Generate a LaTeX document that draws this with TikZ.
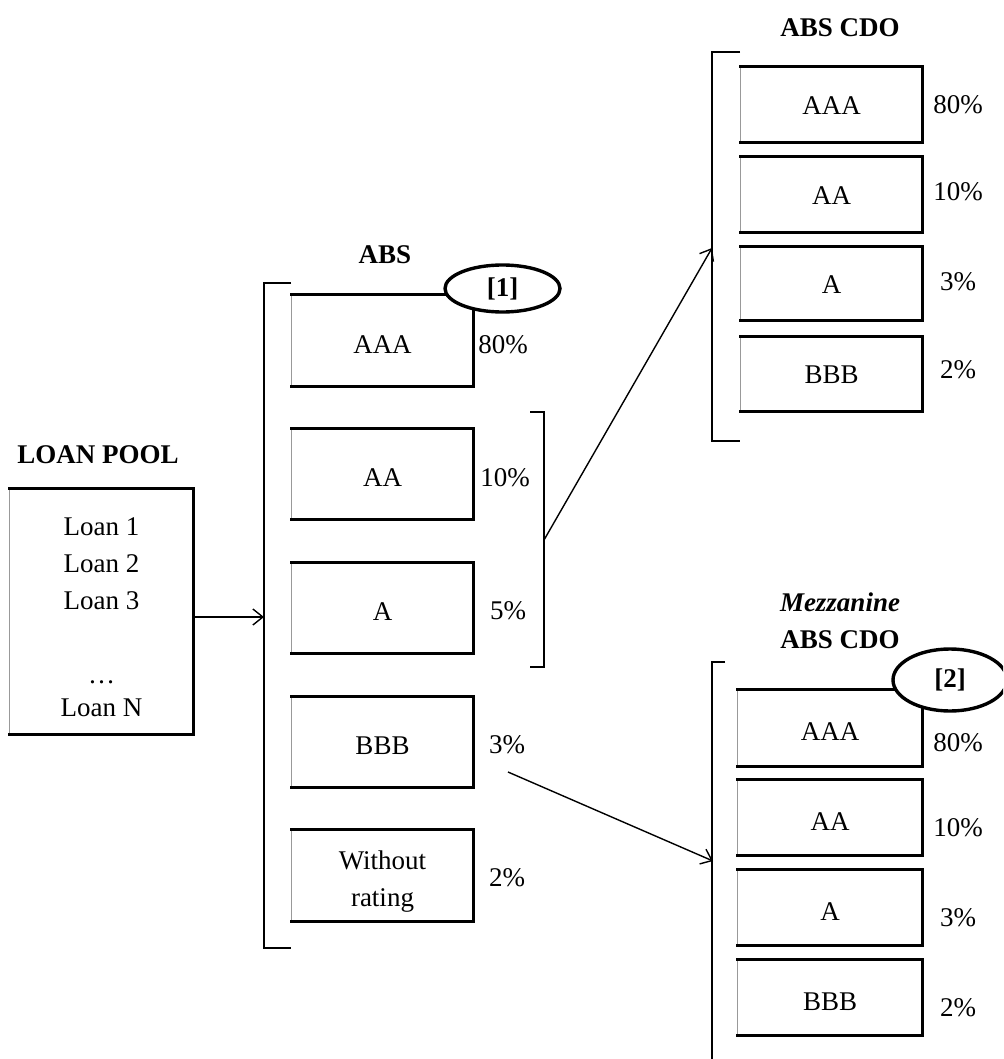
\documentclass[tikz,border=0pt]{standalone}
\usepackage{fontspec}
\setmainfont{Liberation Serif}
\usetikzlibrary{arrows.meta,shapes.geometric}
\tikzset{
 tbox/.style={inner sep=0pt, align=center, font=\fontsize{13.5}{18.5}\selectfont},
 tedge/.style={line width=1.5pt, line join=miter, line cap=rect},
 ledge/.style={line width=0.5pt, black!40},
 brk/.style={line width=1pt},
 arr/.style={line width=0.7pt, -{Straight Barb[length=5pt,width=8pt]}},
 lbl/.style={font=\fontsize{13.5}{16}\selectfont, inner sep=0pt},
 ttl/.style={font=\fontsize{13.5}{18.5}\selectfont\bfseries, inner sep=0pt, align=center},
 tag/.style={ellipse, draw, line width=1.7pt, fill=white, inner sep=0pt, font=\fontsize{13.5}{16}\selectfont\bfseries},
}
% name, cx, cy, w(px), h(px), text, text offset (px)
\newcommand\trbox[7]{%
 \node[inner sep=0pt, minimum width=#4*0.5pt, minimum height=#5*0.5pt] (#1) at (#2,#3) {};
 \node[tbox] (#1-t) at (#2,#3+#7) {#6};
 \draw[ledge] (#1.south west) -- (#1.north west);
 \draw[tedge] (#1.north west) -- (#1.north east) -- (#1.south east) -- (#1.south west);
}
\begin{document}
\begin{tikzpicture}[x=0.5pt,y=-0.5pt]
\useasboundingbox (0,0) rectangle (1003,1059);
\clip (0,0) rectangle (1003,1059);

% ---- Loan pool
\node[ttl] (pooltitle) at (98,455) {LOAN POOL};
\trbox{pool}{101.5}{611.5}{183}{245}{Loan 1\\Loan 2\\Loan 3\\[18.5pt]\dots\\[-2pt]Loan N}{5.5}

% ---- ABS
\node[ttl] (abstitle) at (385,255) {ABS};
\draw[brk] (291,283) -- (264,283) -- (264,948) -- (291,948);
\trbox{absA3}{382.5}{340.5}{181}{91}{AAA}{4}
\trbox{absA2}{382.5}{474}{181}{90}{AA}{4}
\trbox{absA1}{382.5}{608}{181}{90}{A}{4}
\trbox{absB3}{382.5}{742}{181}{90}{BBB}{4}
\trbox{absNR}{382.5}{875.5}{181}{91}{Without\\rating}{6}
\node[lbl] (pA3) at (503,345) {80\%};
\node[lbl] (pA2) at (505,478) {10\%};
\node[lbl] (pA1) at (508,611) {5\%};
\node[lbl] (pB3) at (507,745) {3\%};
\node[lbl] (pNR) at (507,878) {2\%};
\node[tag, minimum width=57.5pt, minimum height=23.5pt] (tag1) at (502.5,288.5) {[1]};

% small bracket around AA and A
\draw[brk] (530,412) -- (544,412) -- (544,667) -- (530,667);
\coordinate (sbr) at (544,540);

% ---- ABS CDO
\node[ttl] (cdotitle) at (840,28) {ABS CDO};
\draw[brk] (740,52) -- (712,52) -- (712,441) -- (740,441);
\coordinate (cdoin) at (712,248);
\trbox{cdoA3}{831.5}{104.5}{181}{75}{AAA}{1}
\trbox{cdoA2}{831.5}{194.5}{181}{75}{AA}{1}
\trbox{cdoA1}{831.5}{283.5}{181}{73}{A}{1}
\trbox{cdoB3}{831.5}{374}{181}{74}{BBB}{1}
\node[lbl] (qA3) at (958,105) {80\%};
\node[lbl] (qA2) at (958,192) {10\%};
\node[lbl] (qA1) at (958,282) {3\%};
\node[lbl] (qB3) at (958,370) {2\%};

% ---- Mezzanine ABS CDO
\node[ttl] (meztitle) at (840,621) {\textit{Mezzanine}\\ABS CDO};
\draw[brk] (725,662) -- (712,662) -- (712,1075);
\coordinate (mezin) at (713,861);
\trbox{mezA3}{830}{728}{184}{76}{AAA}{4}
\trbox{mezA2}{830}{817.5}{184}{75}{AA}{4}
\trbox{mezA1}{830}{907.5}{184}{75}{A}{4}
\trbox{mezB3}{830}{997.5}{184}{75}{BBB}{4}
\node[lbl] (rA3) at (958,743) {80\%};
\node[lbl] (rA2) at (958,828) {10\%};
\node[lbl] (rA1) at (958,918) {3\%};
\node[lbl] (rB3) at (958,1008) {2\%};
\node[tag, minimum width=57pt, minimum height=31pt] (tag2) at (950,680) {[2]};

% ---- connectors
\coordinate (absin) at (264,617);
\draw[arr] (pool.east |- absin) -- (absin);
\draw[arr] (sbr) -- (cdoin);
\coordinate (bbbout) at (508,772);
\draw[arr] (bbbout) -- (mezin);
\end{tikzpicture}
\end{document}
